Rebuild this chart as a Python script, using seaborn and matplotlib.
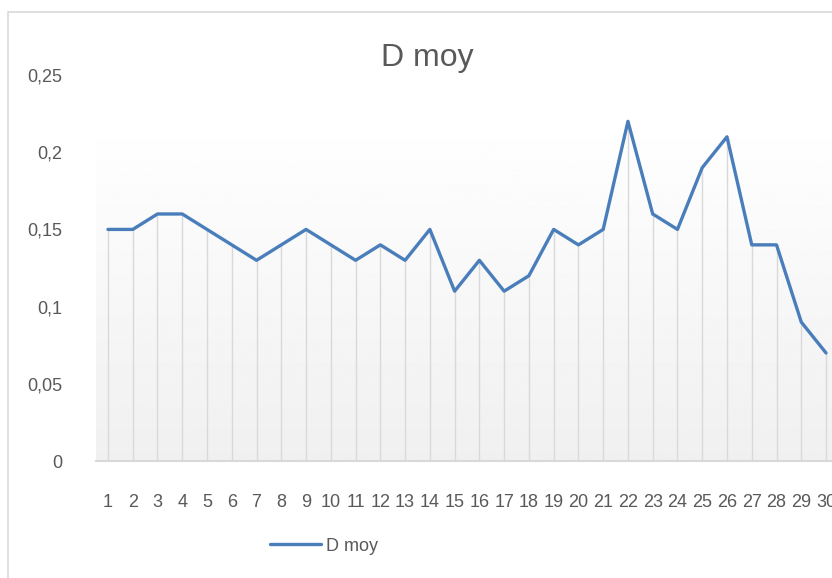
import matplotlib
matplotlib.use("Agg")
import matplotlib.pyplot as plt
import numpy as np
import pandas as pd
import seaborn as sns
from matplotlib.patches import Rectangle


CATEGORIES = list(range(1, 31))
D_MOY = [
    0.15, 0.15, 0.16, 0.16, 0.15, 0.14, 0.13, 0.14, 0.15, 0.14,
    0.13, 0.14, 0.13, 0.15, 0.11, 0.13, 0.11, 0.12, 0.15, 0.14,
    0.15, 0.22, 0.16, 0.15, 0.19, 0.21, 0.14, 0.14, 0.09, 0.07,
]
Y_TICKS = [0, 0.05, 0.1, 0.15, 0.2, 0.25]
Y_TICK_LABELS = ["0", "0,05", "0,1", "0,15", "0,2", "0,25"]
SERIES_NAME = "D moy"

LINE_COLOR = "#4a7ebb"
TEXT_COLOR = "#595959"
GRID_COLOR = "#d9d9d9"


def main() -> None:
    sns.set_theme(style="white")
    plt.rcParams["font.family"] = ["Liberation Sans Narrow", "Liberation Sans", "DejaVu Sans"]

    df = pd.DataFrame({"x": CATEGORIES, "y": D_MOY})

    fig = plt.figure(figsize=(8.32, 5.78), dpi=100)
    ax = fig.add_axes([0.1149, 0.2024, 0.8928, 0.6678])

    # soft grey gradient behind the plot area, Excel style
    grad = np.linspace(0.94, 1.0, 256).reshape(-1, 1)
    ax.imshow(grad, extent=[0.5, 30.5, 0, 0.223], origin="lower", aspect="auto",
              cmap="gray", vmin=0, vmax=1, zorder=0)

    ax.vlines(df["x"], 0, df["y"], color=GRID_COLOR, lw=1, zorder=1)
    sns.lineplot(data=df, x="x", y="y", color=LINE_COLOR, lw=2.4, ax=ax,
                 label=SERIES_NAME, zorder=3, legend=False)

    ax.set_xlim(0.5, 30.5)
    ax.set_ylim(0, 0.25)
    ax.set_xticks(CATEGORIES, labels=[str(c) for c in CATEGORIES])
    ax.set_yticks(Y_TICKS, labels=Y_TICK_LABELS)
    ax.tick_params(axis="y", length=0, pad=24, labelsize=13, labelcolor=TEXT_COLOR)
    ax.tick_params(axis="x", length=0, pad=24, labelsize=13, labelcolor=TEXT_COLOR)
    ax.set_xlabel("")
    ax.set_ylabel("")
    for side in ["top", "right", "left"]:
        ax.spines[side].set_visible(False)
    ax.spines["bottom"].set_color(GRID_COLOR)
    ax.spines["bottom"].set_linewidth(1.5)
    ax.patch.set_alpha(0)

    fig.text(0.514, 0.90, SERIES_NAME, ha="center", va="center",
             fontsize=23, color=TEXT_COLOR)

    handle = plt.Line2D([0], [0], color=LINE_COLOR, lw=2.4)
    fig.legend(handles=[handle], labels=[SERIES_NAME], loc="center",
               bbox_to_anchor=(0.39, 0.055), frameon=False, fontsize=13,
               handlelength=2.8, handletextpad=0.3, labelcolor=TEXT_COLOR)

    fig.patches.append(Rectangle((8 / 832, -0.1), 1.2, 1.0 + 0.079,
                                 transform=fig.transFigure, fill=False,
                                 edgecolor=GRID_COLOR, lw=1.2))

    fig.savefig("out.png", dpi=100)
    plt.close(fig)


if __name__ == "__main__":
    main()
